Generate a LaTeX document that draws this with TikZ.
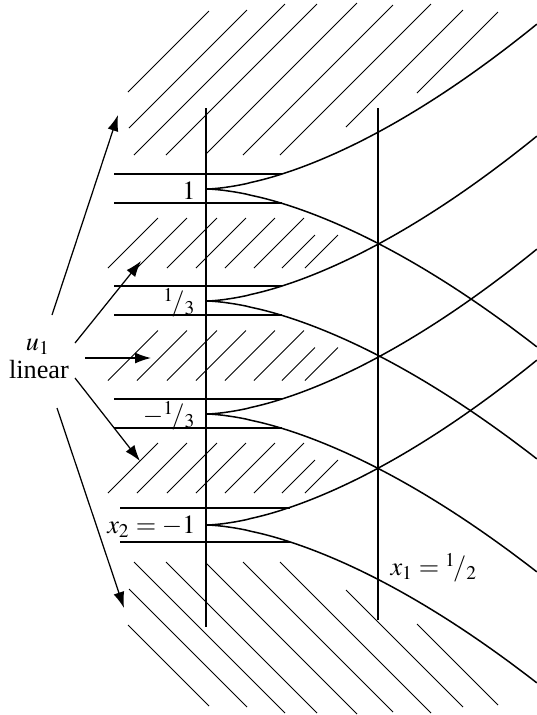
\documentclass[tikz,border=0pt]{standalone}
\usepackage{mathptmx}
\usepackage{fontspec}
\setmainfont{Liberation Serif}
\usetikzlibrary{arrows.meta}

\begin{document}
\begin{tikzpicture}[
  x=0.4pt, y=-0.4pt,
  every node/.style={font=\fontsize{10.5}{12}\selectfont, inner sep=0pt},
  hatch/.style={line width=0.35pt},
  curve/.style={line width=0.6pt},
  arrow/.style={line width=0.5pt, -{Latex[length=6.4pt,width=4.4pt]}}
]
\useasboundingbox (0,0) rectangle (537,715);

% ---------- Hatching: top and (mirrored) bottom ----------
\foreach \k/\a/\b in {220/128/209, 257/129/247, 289/134/285, 321/166/317, 360/206/357,
                      398/243/393, 435/280/431, 473/346/463, 510/417/498} {
  \draw[hatch] (\a,{\k-\a}) -- (\b,{\k-\b});
  \draw[hatch] (\a,{717-\k+\a}) -- (\b,{717-\k+\b});
}

% ---------- Hatching: bands between the levels ----------
\foreach \o in {0,112.5,225} {
  \foreach \a in {108,137,167,196,225,254}
    \draw[hatch] (\a,268+\o) -- (\a+50,218+\o);
  \draw[hatch] (282,268+\o) -- (315,235+\o);
  \draw[hatch] (305,268+\o) -- (338,235+\o);
}

% ---------- Lines x2 = const and x1 = 1/2 ----------
\draw[curve] (206,108) -- (206,627);
\draw[curve] (378,108) -- (378,620);

% ---------- Levels and their characteristics ----------
\foreach \c/\s/\e/\u/\d in {189/114/282/15/14, 301/114/282/15/14,
                            414/114/282/15/14, 525/120/290/17/17} {
  \draw[curve] (\s,\c-\u) -- (\e,\c-\u);
  \draw[curve] (\s,\c+\d) -- (\e,\c+\d);
  \draw[curve] (206,\c) -- plot[domain=0.002:1, samples=60] ({206+331*\x},{\c-165*\x^1.63});
  \draw[curve] (206,\c) -- plot[domain=0.002:1, samples=60] ({206+331*\x},{\c+158*\x^1.63});
}

% ---------- Labels ----------
\node[anchor=east] (lvla) at (196,191) {$1$};
\node[anchor=east] (lvlb) at (196,303) {${}^1\!/{}_3$};
\node[anchor=east] (lvlc) at (196,416) {$-{}^1\!/{}_3$};
\node[anchor=east] (lvld) at (196,527) {$x_2=-1$};
\node[anchor=west] (xone) at (390,568) {$x_1={}^1\!/{}_2$};
\node (uone) at (38,347) {$u_1$};
\node (lin) at (39,370) {linear};

% ---------- Arrows from the label ----------
\foreach \n/\sx/\sy/\tx/\ty in {1/52/315/118/115, 2/75/343/141/261, 3/85/358/151/358,
                                4/75/378/140/461, 5/57/408/124/608} {
  \coordinate (s\n) at (\sx,\sy);
  \coordinate (t\n) at (\tx,\ty);
  \draw[arrow] (s\n) -- (t\n);
}
\end{tikzpicture}
\end{document}
